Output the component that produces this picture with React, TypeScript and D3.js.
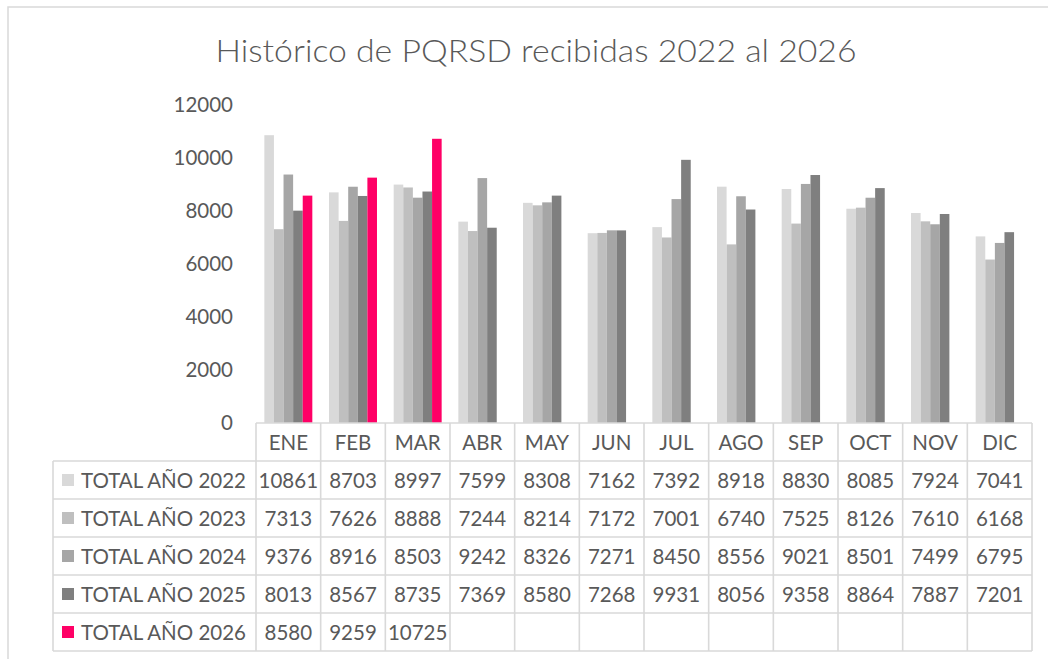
import React from "react";
import * as d3 from "d3";

const months = ["ENE", "FEB", "MAR", "ABR", "MAY", "JUN", "JUL", "AGO", "SEP", "OCT", "NOV", "DIC"];
const seriesNames = ["TOTAL AÑO 2022", "TOTAL AÑO 2023", "TOTAL AÑO 2024", "TOTAL AÑO 2025", "TOTAL AÑO 2026"];
const v2022 = [10861, 8703, 8997, 7599, 8308, 7162, 7392, 8918, 8830, 8085, 7924, 7041];
const v2023 = [7313, 7626, 8888, 7244, 8214, 7172, 7001, 6740, 7525, 8126, 7610, 6168];
const v2024 = [9376, 8916, 8503, 9242, 8326, 7271, 8450, 8556, 9021, 8501, 7499, 6795];
const v2025 = [8013, 8567, 8735, 7369, 8580, 7268, 9931, 8056, 9358, 8864, 7887, 7201];
const v2026: (number | null)[] = [8580, 9259, 10725, null, null, null, null, null, null, null, null, null];
const seriesValues: (number | null)[][] = [v2022, v2023, v2024, v2025, v2026];
const colors = ["#d9d9d9", "#bfbfbf", "#a6a6a6", "#7f7f7f", "#ff0066"];
const yTicks = [0, 2000, 4000, 6000, 8000, 10000, 12000];
const title = "Histórico de PQRSD recibidas 2022 al 2026";

export default function App() {
  const W = 1048, H = 659;
  const font = "Lato, 'Open Sans', sans-serif";
  const textColor = "#595959";
  const grid = "#d9d9d9";
  const fs = 20.5;

  const x0 = d3.scaleBand<string>().domain(months).range([256, 1032]).padding(0);
  const x1 = d3.scaleBand<string>().domain(seriesNames).range([0, x0.bandwidth()]).paddingInner(0).paddingOuter(0.87);
  const y = d3.scaleLinear().domain([0, 12000]).range([423, 105]);
  const rows = d3.scaleBand<string>().domain(["header", ...seriesNames]).range([423, 651]).padding(0);

  const tableLeft = 53;
  const tableRight = 1032;

  return (
    <svg width={W} height={H} style={{ position: "absolute", left: 0, top: 0, background: "#fff" }} fontFamily={font}>
      <rect x={8} y={7} width={1200} height={800} fill="#fff" stroke={grid} strokeWidth={1.5} />
      <text x={536} y={62} textAnchor="middle" fontSize={32} fontWeight={300} fill={textColor} textLength={641} lengthAdjust="spacingAndGlyphs">
        {title}
      </text>

      {yTicks.map((t) => (
        <text key={t} x={233} y={y(t)} dy="0.35em" textAnchor="end" fontSize={fs} fill={textColor}>
          {t}
        </text>
      ))}

      {seriesValues.map((vals, si) =>
        vals.map((v, mi) =>
          v == null ? null : (
            <rect
              key={`${si}-${mi}`}
              x={(x0(months[mi]) as number) + (x1(seriesNames[si]) as number)}
              y={y(v)}
              width={x1.bandwidth()}
              height={y(0) - y(v)}
              fill={colors[si]}
            />
          )
        )
      )}

      <g stroke={grid} strokeWidth={1.6}>
        <line x1={256} x2={tableRight} y1={423} y2={423} />
        {seriesNames.map((s) => (
          <line key={s} x1={tableLeft} x2={tableRight} y1={rows(s) as number} y2={rows(s) as number} />
        ))}
        <line x1={tableLeft} x2={tableRight} y1={651} y2={651} />
        <line x1={tableLeft} x2={tableLeft} y1={rows(seriesNames[0]) as number} y2={651} />
        {months.map((m) => (
          <line key={m} x1={x0(m) as number} x2={x0(m) as number} y1={423} y2={651} />
        ))}
        <line x1={tableRight} x2={tableRight} y1={423} y2={651} />
      </g>

      {months.map((m) => (
        <text key={m} x={(x0(m) as number) + x0.bandwidth() / 2} y={(rows("header") as number) + rows.bandwidth() / 2 + 1} dy="0.35em" textAnchor="middle" fontSize={fs} fill={textColor}>
          {m}
        </text>
      ))}

      {seriesNames.map((s, si) => {
        const ry = (rows(s) as number) + rows.bandwidth() / 2;
        return (
          <g key={s}>
            <rect x={62} y={ry - 6} width={12} height={12} fill={colors[si]} />
            <text x={81} y={ry + 1} dy="0.35em" fontSize={fs} fill={textColor}>
              {s}
            </text>
            {seriesValues[si].map((v, mi) =>
              v == null ? null : (
                <text key={mi} x={(x0(months[mi]) as number) + x0.bandwidth() / 2} y={ry + 1} dy="0.35em" textAnchor="middle" fontSize={fs} fill={textColor}>
                  {v}
                </text>
              )
            )}
          </g>
        );
      })}
    </svg>
  );
}
